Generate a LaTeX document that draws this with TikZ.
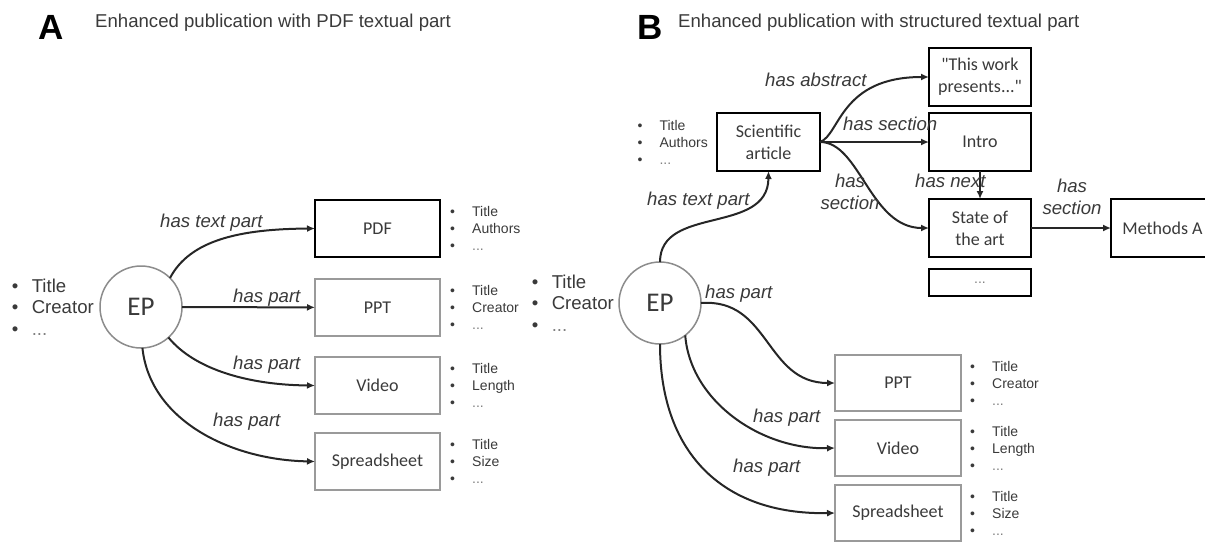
\documentclass[tikz,border=0pt]{standalone}
\usepackage{fontspec}
\setmainfont{Liberation Sans}
\newfontfamily\calibrifont{Carlito}
\usetikzlibrary{arrows.meta, positioning}
\definecolor{boxgray}{HTML}{9A9A9A}
\definecolor{epgray}{HTML}{8C8C8C}
\definecolor{textgray}{HTML}{3A3A3A}
\newcommand{\attritem}[2][22pt]{\makebox[#1][l]{\textbullet}#2}
\newcommand{\etcdots}{\textcolor{gray}{...}}

\begin{document}
\begin{tikzpicture}[x=1pt, y=-1pt,
        part/.style={draw=boxgray, line width=1.5pt, fill=white, minimum width=125pt,
                     minimum height=57pt, inner sep=0pt, outer sep=0pt, align=center,
                     text=textgray, font=\calibrifont\fontsize{18}{22}\selectfont},
        strong/.style={part, draw=black, line width=2.5pt},
        ep/.style={circle, draw=epgray, line width=1.5pt, fill=white, minimum size=82pt,
                   inner sep=0pt, outer sep=0pt, text=textgray,
                   font=\calibrifont\fontsize{27}{30}\selectfont},
        arr/.style={-{Latex[length=8pt,width=7pt]}, line width=2pt, draw=black!85},
        lbl/.style={inner sep=0pt, align=center, text=textgray,
                    font=\fontsize{18.6}{22}\selectfont\itshape},
        attrs/.style={inner sep=0pt, align=left, text=textgray,
                      font=\fontsize{14}{17}\selectfont},
        bigattrs/.style={inner sep=0pt, align=left, text=textgray,
                         font=\fontsize{18.6}{21.5}\selectfont},
        heading/.style={inner sep=0pt, anchor=base west, text=textgray,
                        font=\fontsize{18.6}{22}\selectfont},
        panel/.style={inner sep=0pt, font=\bfseries\fontsize{35}{35}\selectfont}
    ]
        \useasboundingbox (0,0) rectangle (1205,541);
        \clip (0,0) rectangle (1205,541);

        % A: PDF textual part
        \node[panel] (A) at (51,27) {A};
        \node[heading] (titleA) at (95,27) {Enhanced publication with PDF textual part};
        \node[ep] (epA) at (141,307) {EP};
        \node[bigattrs, left=6pt of epA] (epAattr) {\attritem[20pt]{Title}\\\attritem[20pt]{Creator}\\\attritem[20pt]{\etcdots}};
        \node[strong] (pdf) at (377.5,228.5) {PDF};
        \node[part, below=22pt of pdf] (pptA) {PPT};
        \node[part, below=21pt of pptA] (videoA) {Video};
        \node[part, below=19pt of videoA] (sheetA) {Spreadsheet};
        \node[attrs, right=10pt of pdf] (pdfattr) {\attritem{Title}\\\attritem{Authors}\\\attritem{\etcdots}};
        \node[attrs, right=10pt of pptA] (pptAattr) {\attritem{Title}\\\attritem{Creator}\\\attritem{\etcdots}};
        \node[attrs, right=10pt of videoA] (videoAattr) {\attritem{Title}\\\attritem{Length}\\\attritem{\etcdots}};
        \node[attrs, right=10pt of sheetA] (sheetAattr) {\attritem{Title}\\\attritem{Size}\\\attritem{\etcdots}};
        \draw[arr] (epA.45) .. controls (190,240) and (240,229) .. (pdf.west);
        \draw[arr] (epA) -- (pptA);
        \draw[arr] (epA.-48) .. controls (195,370) and (250,385) .. (videoA.west);
        \draw[arr] (epA.-88) .. controls (150,420) and (230,460) .. (sheetA.west);
        \node[lbl, anchor=base west] (lTextA) at (160,227) {has text part};
        \node[lbl, anchor=base west] (lPptA) at (233,302) {has part};
        \node[lbl, anchor=base west] (lVideoA) at (233,369) {has part};
        \node[lbl, anchor=base west] (lSheetA) at (213,426) {has part};

        % B: structured textual part
        \node[panel] (B) at (650,27) {B};
        \node[heading] (titleB) at (678,27) {Enhanced publication with structured textual part};
        \node[ep] (epB) at (660,303) {EP};
        \node[bigattrs, left=5pt of epB] (epBattr) {\attritem[20pt]{Title}\\\attritem[20pt]{Creator}\\\attritem[20pt]{\etcdots}};
        \node[strong, minimum width=103pt, minimum height=58pt] (article) at (768.5,142) {Scientific\\article};
        \node[attrs, left=9pt of article] (articleattr) {\attritem{Title}\\\attritem{Authors}\\\attritem{\etcdots}};
        \node[strong, minimum width=102pt, minimum height=58pt] (abstract) at (980,77) {"This work\\presents..."};
        \node[strong, minimum width=102pt, minimum height=58pt, below=7pt of abstract] (intro) {Intro};
        \node[strong, minimum width=102pt, minimum height=58pt, below=28pt of intro] (sota) {State of\\the art};
        \node[strong, minimum width=102pt, minimum height=27pt, below=12pt of sota,
              font=\fontsize{14}{17}\selectfont] (moresec) {\etcdots};
        \node[strong, minimum width=103pt, minimum height=58pt, right=80pt of sota] (methods) {Methods A};
        \node[part, minimum width=126pt, minimum height=56pt] (pptB) at (898,383) {PPT};
        \node[part, minimum width=126pt, minimum height=56pt, below=9pt of pptB] (videoB) {Video};
        \node[part, minimum width=126pt, minimum height=56pt, below=9pt of videoB] (sheetB) {Spreadsheet};
        \node[attrs, right=9pt of pptB] (pptBattr) {\attritem{Title}\\\attritem{Creator}\\\attritem{\etcdots}};
        \node[attrs, right=9pt of videoB] (videoBattr) {\attritem{Title}\\\attritem{Length}\\\attritem{\etcdots}};
        \node[attrs, right=9pt of sheetB] (sheetBattr) {\attritem{Title}\\\attritem{Size}\\\attritem{\etcdots}};
        \draw[arr] (epB.north) .. controls (660,205) and (768,235) .. (article.south);
        \draw[arr] (article.east) .. controls (840,135) and (840,77) .. (abstract.west);
        \draw[arr] (article) -- (intro);
        \draw[arr] (article.east) .. controls (860,142) and (870,228) .. (sota.west);
        \draw[arr] (intro) -- (sota);
        \draw[arr] (sota) -- (methods);
        \draw[arr] (epB.east) .. controls (770,298) and (765,383) .. (pptB.west);
        \draw[arr] (epB.-52) .. controls (690,400) and (760,450) .. (videoB.west);
        \draw[arr] (epB.south) .. controls (660,450) and (720,515) .. (sheetB.west);
        \node[lbl, anchor=base west] (lTextB) at (647,205) {has text part};
        \node[lbl, anchor=base west] (lAbstract) at (765,86) {has abstract};
        \node[lbl, anchor=base west] (lIntro) at (843,130) {has section};
        \node[lbl] (lSota) at (850,192) {has\\section};
        \node[lbl, anchor=base west] (lNext) at (915,187) {has next};
        \node[lbl] (lMethods) at (1072,197) {has\\section};
        \node[lbl, anchor=base west] (lPptB) at (705,298) {has part};
        \node[lbl, anchor=base west] (lVideoB) at (753,422) {has part};
        \node[lbl, anchor=base west] (lSheetB) at (733,472) {has part};
    \end{tikzpicture}
\end{document}
